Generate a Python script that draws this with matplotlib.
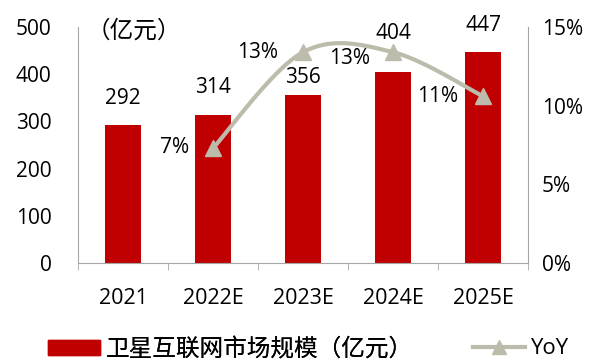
import numpy as np
import matplotlib.pyplot as plt
from matplotlib.lines import Line2D
from matplotlib.patches import Patch

plt.rcParams['font.family'] = ['Open Sans', 'Noto Sans CJK SC', 'DejaVu Sans']

years = ['2021', '2022E', '2023E', '2024E', '2025E']
market = [292, 314, 356, 404, 447]
yoy_years = [1, 2, 3, 4]
yoy = [7.3, 13.4, 13.4, 10.6]

red = '#C00000'
grey = '#BDBCAC'

fig = plt.figure(figsize=(5.98, 3.63), dpi=100)
ax = fig.add_axes([78 / 598, 1 - 263 / 363, 450 / 598, 236 / 363])
ax2 = ax.twinx()

x = np.arange(len(years))
ax.bar(x, market, width=0.4, color=red, zorder=2)
# label gaps above bars, nudged around the YoY curve
gaps = [57, 57, 38, 83, 57]
for xi, v, g in zip(x, market, gaps):
    ax.text(xi, v + g, str(v), ha='center', va='center', fontsize=15)

ax.set_xlim(-0.5, len(years) - 0.5)
ax.set_ylim(0, 500)
ax.set_yticks(range(0, 501, 100))
ax.set_xticks(x)
ax.set_xticklabels(years)
ax.set_xticks(np.arange(-0.5, len(years), 1), minor=True)
ax.tick_params(axis='x', which='major', length=0, pad=18, labelsize=15.5)
ax.tick_params(axis='x', which='minor', length=5, color='#A6A6A6')
ax.tick_params(axis='y', length=0, pad=19, labelsize=15)
for s in ['top', 'right']:
    ax.spines[s].set_visible(False)
ax.spines['left'].set_color('#A6A6A6')
ax.spines['bottom'].set_color('#A6A6A6')

ax.text(-0.4, 492, '（亿元）', ha='left', va='center', fontsize=17,
        family=['Noto Sans CJK SC'])

# smoothed YoY curve (bezier through the points, Excel style)
px = np.array(yoy_years, dtype=float)
py = np.array(yoy, dtype=float)
cx, cy = [], []
n = len(px)
for i in range(n - 1):
    i0 = max(i - 1, 0)
    i3 = min(i + 2, n - 1)
    p0 = np.array([px[i], py[i]])
    p1 = p0 + (np.array([px[i + 1], py[i + 1]]) - np.array([px[i0], py[i0]])) / 6
    p3 = np.array([px[i + 1], py[i + 1]])
    p2 = p3 - (np.array([px[i3], py[i3]]) - p0) / 6
    t = np.linspace(0, 1, 40)[:, None]
    seg = (1 - t) ** 3 * p0 + 3 * (1 - t) ** 2 * t * p1 + 3 * (1 - t) * t ** 2 * p2 + t ** 3 * p3
    cx.extend(seg[:, 0])
    cy.extend(seg[:, 1])

ax2.plot(cx, cy, color=grey, lw=3, zorder=3)
ax2.plot(px, py, ls='none', marker='^', ms=11, color=grey, zorder=4)
offsets = [(-0.43, 0.05), (-0.5, 0.0), (-0.48, -0.4), (-0.5, 0.0)]
for xi, v, (dx, dy) in zip(px, py, offsets):
    ax2.text(xi + dx, v + dy, f'{v:.0f}%', ha='center', va='center', fontsize=15)

ax2.set_ylim(0, 15)
ax2.set_yticks([0, 5, 10, 15])
ax2.set_yticklabels(['0%', '5%', '10%', '15%'])
ax2.tick_params(axis='y', length=0, pad=10, labelsize=15)
for s in ['top', 'left', 'bottom']:
    ax2.spines[s].set_visible(False)
ax2.spines['right'].set_color('#A6A6A6')

leg1 = fig.legend([Patch(color=red)], ['卫星互联网市场规模（亿元）'], loc='center left',
                  bbox_to_anchor=(48 / 598, 1 - 349 / 363), frameon=False,
                  borderpad=0, borderaxespad=0, handlelength=2.2, handleheight=0.6,
                  handletextpad=0.26, prop={'family': ['Noto Sans CJK SC'], 'size': 17})
fig.add_artist(leg1)
fig.legend([Line2D([], [], color=grey, lw=3, marker='^', ms=10)], ['YoY'],
           loc='center left', bbox_to_anchor=(473 / 598, 1 - 349 / 363), frameon=False,
           borderpad=0, borderaxespad=0, handlelength=2.35, handletextpad=0.2,
           prop={'family': ['Open Sans'], 'size': 16})

fig.savefig('out.png', dpi=100)
